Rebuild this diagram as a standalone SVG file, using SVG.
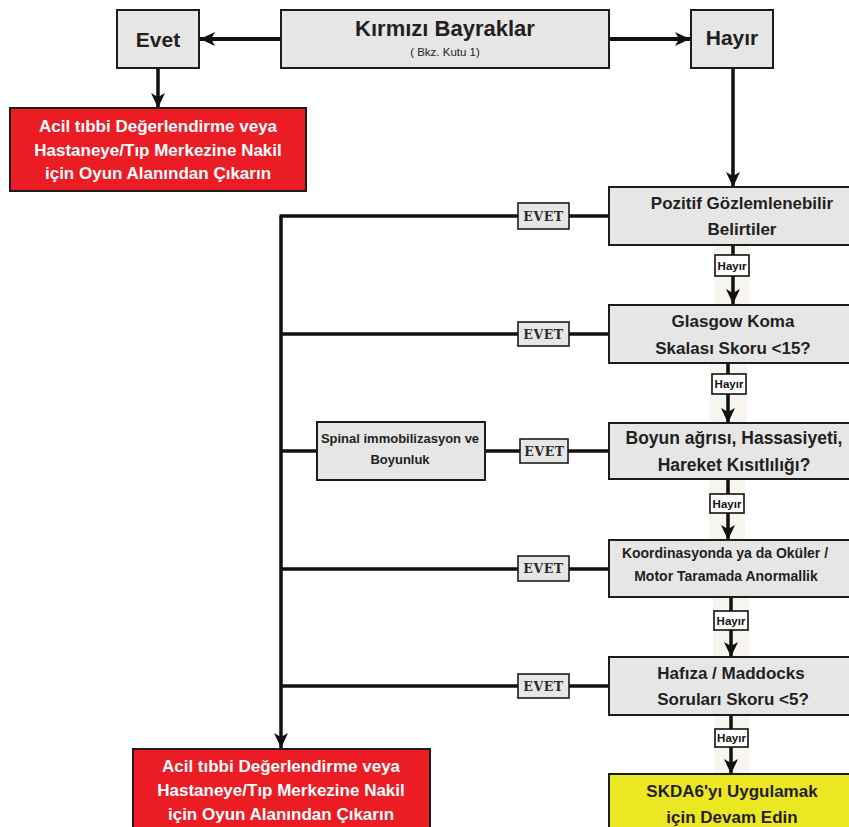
<svg xmlns="http://www.w3.org/2000/svg" width="849" height="827" viewBox="0 0 849 827">
<defs>
<marker id="ah" markerUnits="userSpaceOnUse" markerWidth="16" markerHeight="16" viewBox="0 0 16 14" refX="15" refY="7" orient="auto">
<path d="M0,0 L15,7 L0,14 L4,7 z" fill="#111"/>
</marker>
<style>
.box{fill:#e6e6e6;stroke:#1c1c1c;stroke-width:2}
.red{fill:#ec1c24;stroke:#1c1c1c;stroke-width:2}
.yel{fill:#ebe722;stroke:#1c1c1c;stroke-width:2}
.evb{fill:#e6e6e6;stroke:#1c1c1c;stroke-width:1.6}
.hyb{fill:#ffffff;stroke:#111;stroke-width:1.6}
.band{fill:#f8f4ee}
.t{font-family:"Liberation Sans",Arial,sans-serif;font-weight:bold;fill:#231f20;text-anchor:middle}
.w{font-family:"Liberation Sans",Arial,sans-serif;font-weight:bold;fill:#ffffff;text-anchor:middle;font-size:17px}
.ev{font-family:"DejaVu Serif","Liberation Serif",serif;font-weight:bold;fill:#2a2a2a;text-anchor:middle;font-size:12.5px;letter-spacing:0.6px}
.hy{font-family:"Liberation Sans",Arial,sans-serif;font-weight:bold;fill:#111;text-anchor:middle;font-size:11.5px}
.ln{stroke:#111;stroke-width:3.5;fill:none}
.la{stroke:#111;stroke-width:3.5;fill:none;marker-end:url(#ah)}
</style>
</defs>
<rect width="849" height="827" fill="#ffffff"/>

<g id="bands">
<rect class="band" x="714" y="245" width="35" height="59"/>
<rect class="band" x="710" y="363" width="37" height="60"/>
<rect class="band" x="709" y="479" width="36" height="61"/>
<rect class="band" x="713" y="597" width="36" height="60"/>
<rect class="band" x="714" y="715" width="35" height="59"/>
</g>

<g id="connectors">
<line class="la" x1="281" y1="39" x2="200" y2="39" style="stroke-width:4"/>
<line class="la" x1="609" y1="39" x2="690" y2="39" style="stroke-width:4"/>
<line class="la" x1="158" y1="68" x2="158" y2="108"/>
<line class="la" x1="733" y1="68" x2="733" y2="187"/>
<line class="la" x1="733" y1="245" x2="733" y2="304"/>
<line class="la" x1="728" y1="363" x2="728" y2="423"/>
<line class="la" x1="728" y1="479" x2="728" y2="540"/>
<line class="la" x1="731" y1="597" x2="731" y2="657"/>
<line class="la" x1="731" y1="715" x2="731" y2="774"/>
<line class="la" x1="281" y1="216" x2="281" y2="748"/>
<line class="ln" x1="279.5" y1="216" x2="609" y2="216"/>
<line class="ln" x1="281" y1="334" x2="609" y2="334"/>
<line class="ln" x1="281" y1="451" x2="609" y2="451"/>
<line class="ln" x1="281" y1="569" x2="609" y2="569"/>
<line class="ln" x1="281" y1="686" x2="609" y2="686"/>
</g>

<g id="evet-top">
<rect class="box" x="117" y="10" width="82" height="58"/>
<text class="t" x="158" y="47" font-size="21">Evet</text>
</g>
<g id="kirmizi-bayraklar">
<rect class="box" x="281" y="10" width="328" height="58"/>
<text class="t" x="445" y="36" font-size="22">Kırmızı Bayraklar</text>
<text class="t" x="445" y="56" font-size="11.5" style="font-weight:normal">( Bkz. Kutu 1)</text>
</g>
<g id="hayir-top">
<rect class="box" x="691" y="10" width="82" height="58"/>
<text class="t" x="732" y="45" font-size="21">Hayır</text>
</g>
<g id="acil-1">
<rect class="red" x="10" y="108" width="296" height="83"/>
<text class="w" x="158" y="132">Acil tıbbi Değerlendirme veya</text>
<text class="w" x="158" y="156">Hastaneye/Tıp Merkezine Nakil</text>
<text class="w" x="158" y="179">için Oyun Alanından Çıkarın</text>
</g>
<g id="pozitif">
<rect class="box" x="609" y="187" width="245" height="58"/>
<text class="t" x="742" y="209" font-size="17">Pozitif Gözlemlenebilir</text>
<text class="t" x="742" y="235" font-size="17">Belirtiler</text>
</g>
<g id="glasgow">
<rect class="box" x="609" y="305" width="245" height="58"/>
<text class="t" x="733" y="327" font-size="17">Glasgow Koma</text>
<text class="t" x="733" y="354" font-size="17">Skalası Skoru &lt;15?</text>
</g>
<g id="boyun">
<rect class="box" x="609" y="423" width="245" height="56"/>
<text class="t" x="734" y="444" font-size="17.5">Boyun ağrısı, Hassasiyeti,</text>
<text class="t" x="734" y="471" font-size="17.5">Hareket Kısıtlılığı?</text>
</g>
<g id="spinal">
<rect class="box" x="317" y="422" width="168" height="58"/>
<text class="t" x="400" y="443" font-size="13">Spinal immobilizasyon ve</text>
<text class="t" x="400" y="464" font-size="13">Boyunluk</text>
</g>
<g id="koordinasyon">
<rect class="box" x="609" y="540" width="245" height="57"/>
<text class="t" x="725" y="558" font-size="14">Koordinasyonda ya da Oküler /</text>
<text class="t" x="726" y="581" font-size="14">Motor Taramada Anormallik</text>
</g>
<g id="hafiza">
<rect class="box" x="609" y="657" width="245" height="58"/>
<text class="t" x="731" y="679" font-size="17">Hafıza / Maddocks</text>
<text class="t" x="733" y="705" font-size="17">Soruları Skoru &lt;5?</text>
</g>
<g id="skda">
<rect class="yel" x="609" y="774" width="245" height="60"/>
<text class="t" x="732" y="797" font-size="17">SKDA6'yı Uygulamak</text>
<text class="t" x="732" y="823" font-size="17">için Devam Edin</text>
</g>
<g id="acil-2">
<rect class="red" x="133" y="749" width="297" height="84"/>
<text class="w" x="281" y="772">Acil tıbbi Değerlendirme veya</text>
<text class="w" x="281" y="796">Hastaneye/Tıp Merkezine Nakil</text>
<text class="w" x="281" y="820">için Oyun Alanından Çıkarın</text>
</g>

<g id="evet-labels">
<rect class="evb" x="518" y="203" width="51" height="26"/>
<text class="ev" x="543.5" y="221">EVET</text>
<rect class="evb" x="518" y="322" width="51" height="24"/>
<text class="ev" x="543.5" y="339">EVET</text>
<rect class="evb" x="520" y="439" width="48" height="24"/>
<text class="ev" x="544.5" y="456">EVET</text>
<rect class="evb" x="518" y="556" width="51" height="25"/>
<text class="ev" x="543.5" y="573">EVET</text>
<rect class="evb" x="518" y="674" width="51" height="24"/>
<text class="ev" x="543.5" y="691">EVET</text>
</g>

<g id="hayir-labels">
<rect class="hyb" x="715" y="255" width="34" height="21"/>
<text class="hy" x="732" y="270">Hayır</text>
<rect class="hyb" x="712" y="374" width="34" height="20"/>
<text class="hy" x="729" y="388">Hayır</text>
<rect class="hyb" x="710" y="494" width="34" height="19"/>
<text class="hy" x="727" y="508">Hayır</text>
<rect class="hyb" x="714" y="611" width="34" height="19"/>
<text class="hy" x="731" y="625">Hayır</text>
<rect class="hyb" x="715" y="729" width="33" height="18"/>
<text class="hy" x="731.5" y="742">Hayır</text>
</g>
</svg>
